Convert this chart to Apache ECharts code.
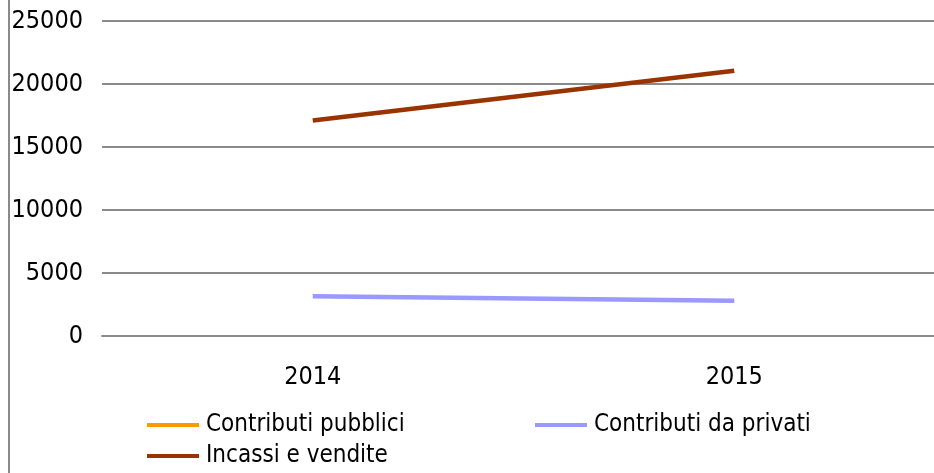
<!DOCTYPE html>
<html>
<head>
<meta charset="utf-8">
<script src="https://cdn.jsdelivr.net/npm/echarts@6/dist/echarts.min.js"></script>
<style>
html,body{margin:0;padding:0;background:#fff;overflow:hidden;}
#c{width:945px;height:473px;}
</style>
</head>
<body>
<div id="c"></div>
<script>
var categories = ['2014', '2015'];
var seriesNames = ['Contributi pubblici', 'Contributi da privati', 'Incassi e vendite'];
var contributiPubblici = [null, null];
var contributiPrivati = [3150, 2800];
var incassiVendite = [17100, 21050];
var yTicks = [0, 5000, 10000, 15000, 20000, 25000];

var FONT = '"Liberation Sans Narrow", "DejaVu Sans Condensed", sans-serif';
var colors = ['#FF9900', '#9999FF', '#993300'];

function legendAt(name, left, top) {
  return {
    left: left, top: top, padding: 0,
    itemWidth: 52, itemHeight: 4, itemGap: 0,
    icon: 'rect',
    data: [name],
    textStyle: {color: '#000', fontFamily: FONT, fontSize: 24, padding: [0, 0, 0, 2]}
  };
}

var chart = echarts.init(document.getElementById('c'), null, {renderer: 'canvas'});
chart.setOption({
  animation: false,
  backgroundColor: '#fff',
  color: colors,
  grid: {left: 102, right: 0, top: 21, bottom: 137, containLabel: false},
  xAxis: {
    type: 'category',
    data: categories,
    boundaryGap: true,
    axisLine: {show: true, lineStyle: {color: '#8a8a8a', width: 2}},
    axisTick: {show: false},
    axisLabel: {color: '#000', fontFamily: FONT, fontSize: 25, margin: 29}
  },
  yAxis: {
    type: 'value',
    min: yTicks[0],
    max: yTicks[yTicks.length - 1],
    interval: yTicks[1] - yTicks[0],
    axisLine: {show: false},
    axisTick: {show: false},
    splitLine: {show: true, lineStyle: {color: '#8a8a8a', width: 2}},
    axisLabel: {color: '#000', fontFamily: FONT, fontSize: 25, margin: 19,
      formatter: function (v) { return String(v); }}
  },
  legend: [
    legendAt(seriesNames[0], 147, 413),
    legendAt(seriesNames[1], 535, 413),
    legendAt(seriesNames[2], 147, 444)
  ],
  graphic: [
    {type: 'rect', left: 8, top: 0, shape: {width: 2, height: 473}, style: {fill: '#8a8a8a'}}
  ],
  series: [
    {name: seriesNames[0], type: 'line', data: contributiPubblici, symbol: 'none', lineStyle: {width: 4.5}},
    {name: seriesNames[1], type: 'line', data: contributiPrivati, symbol: 'none', lineStyle: {width: 4.5}},
    {name: seriesNames[2], type: 'line', data: incassiVendite, symbol: 'none', lineStyle: {width: 4.5}}
  ]
});
</script>
</body>
</html>
